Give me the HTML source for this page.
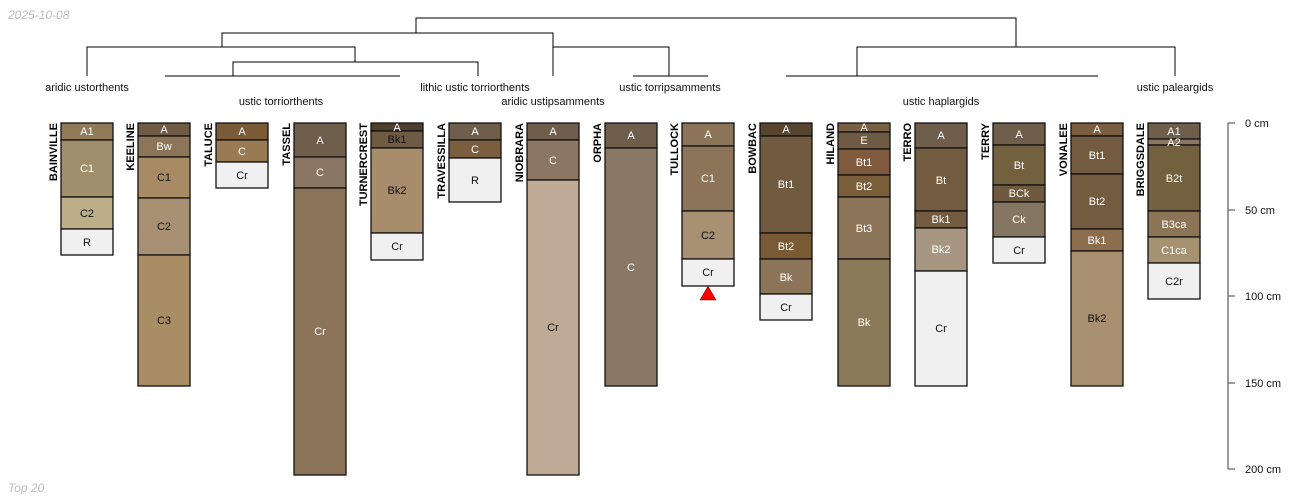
<!DOCTYPE html>
<html><head><meta charset="utf-8"><style>
html,body{margin:0;padding:0;background:#fff;width:1300px;height:500px;overflow:hidden}
svg{display:block;font-family:"Liberation Sans",sans-serif}
.h{stroke:#111;stroke-width:1.3}
.w{fill:#fff;font-size:11px;text-anchor:middle}
.k{fill:#111;font-size:11px;text-anchor:middle}
.n{font-size:11px;font-weight:bold;text-anchor:end;fill:#000}
.d{stroke:#000;stroke-width:1;fill:none}
.t{font-size:11px;text-anchor:middle;fill:#111}
</style></head><body>
<svg width="1300" height="500" viewBox="0 0 1300 500">
<text x="8" y="19" font-size="12" font-style="italic" fill="#bbb">2025-10-08</text>
<text x="8" y="492" font-size="12" font-style="italic" fill="#bbb">Top 20</text>
<!-- dendrogram -->
<g class="d">
<path d="M416 33V18H1016V47"/>
<path d="M222 47V33H553V47"/>
<path d="M87 76V47H355V62"/>
<path d="M233 76V62H478V76"/>
<path d="M165 76H400"/>
<path d="M553 76V47H669V76"/>
<path d="M633 76H708"/>
<path d="M857 76V47H1175V76"/>
<path d="M786 76H1098"/>
</g>
<text class="t" x="87" y="91">aridic ustorthents</text>
<text class="t" x="281" y="105">ustic torriorthents</text>
<text class="t" x="475" y="91">lithic ustic torriorthents</text>
<text class="t" x="553" y="105">aridic ustipsamments</text>
<text class="t" x="670" y="91">ustic torripsamments</text>
<text class="t" x="941" y="105">ustic haplargids</text>
<text class="t" x="1175" y="91">ustic paleargids</text>
<!-- profiles -->
<g class="h">
<!-- BAINVILLE 61 -->
<rect x="61" y="123" width="52" height="17" fill="#8f7a59"/>
<rect x="61" y="140" width="52" height="57" fill="#9f8f6c"/>
<rect x="61" y="197" width="52" height="32" fill="#bcae88"/>
<rect x="61" y="229" width="52" height="26" fill="#f0f0f0"/>
<!-- KEELINE 138 -->
<rect x="138" y="123" width="52" height="13" fill="#6f5a43"/>
<rect x="138" y="136" width="52" height="21" fill="#8c7559"/>
<rect x="138" y="157" width="52" height="41" fill="#a88b65"/>
<rect x="138" y="198" width="52" height="57" fill="#a89073"/>
<rect x="138" y="255" width="52" height="131" fill="#a88d65"/>
<!-- TALUCE 216 -->
<rect x="216" y="123" width="52" height="17" fill="#7a5a37"/>
<rect x="216" y="140" width="52" height="22" fill="#9a7a55"/>
<rect x="216" y="162" width="52" height="26" fill="#f0f0f0"/>
<!-- TASSEL 294 -->
<rect x="294" y="123" width="52" height="34" fill="#6f5e4c"/>
<rect x="294" y="157" width="52" height="31" fill="#8a7662"/>
<rect x="294" y="188" width="52" height="287" fill="#8c7459"/>
<!-- TURNERCREST 371 -->
<rect x="371" y="123" width="52" height="8" fill="#4f3f2f"/>
<rect x="371" y="131" width="52" height="17" fill="#6f5a43"/>
<rect x="371" y="148" width="52" height="85" fill="#a88d6c"/>
<rect x="371" y="233" width="52" height="27" fill="#f0f0f0"/>
<!-- TRAVESSILLA 449 -->
<rect x="449" y="123" width="52" height="17" fill="#6f5e4c"/>
<rect x="449" y="140" width="52" height="18" fill="#7a5e3f"/>
<rect x="449" y="158" width="52" height="44" fill="#f0f0f0"/>
<!-- NIOBRARA 527 -->
<rect x="527" y="123" width="52" height="17" fill="#6f5e4c"/>
<rect x="527" y="140" width="52" height="40" fill="#8a7662"/>
<rect x="527" y="180" width="52" height="295" fill="#bfab95"/>
<!-- ORPHA 605 -->
<rect x="605" y="123" width="52" height="25" fill="#6f5e4c"/>
<rect x="605" y="148" width="52" height="238" fill="#8a7866"/>
<!-- TULLOCK 682 -->
<rect x="682" y="123" width="52" height="23" fill="#8c7459"/>
<rect x="682" y="146" width="52" height="65" fill="#8b7457"/>
<rect x="682" y="211" width="52" height="48" fill="#a89073"/>
<rect x="682" y="259" width="52" height="27" fill="#f0f0f0"/>
<!-- BOWBAC 760 -->
<rect x="760" y="123" width="52" height="13" fill="#574530"/>
<rect x="760" y="136" width="52" height="97" fill="#705a40"/>
<rect x="760" y="233" width="52" height="26" fill="#7a5a35"/>
<rect x="760" y="259" width="52" height="35" fill="#8c7459"/>
<rect x="760" y="294" width="52" height="26" fill="#f0f0f0"/>
<!-- HILAND 838 -->
<rect x="838" y="123" width="52" height="9" fill="#7a6044"/>
<rect x="838" y="132" width="52" height="17" fill="#6f5a43"/>
<rect x="838" y="149" width="52" height="26" fill="#7f5a3f"/>
<rect x="838" y="175" width="52" height="22" fill="#7a5e3a"/>
<rect x="838" y="197" width="52" height="62" fill="#8c7459"/>
<rect x="838" y="259" width="52" height="127" fill="#8b7a5a"/>
<!-- TERRO 915 -->
<rect x="915" y="123" width="52" height="25" fill="#6f5e4c"/>
<rect x="915" y="148" width="52" height="63" fill="#735b40"/>
<rect x="915" y="211" width="52" height="17" fill="#735b40"/>
<rect x="915" y="228" width="52" height="43" fill="#a69682"/>
<rect x="915" y="271" width="52" height="115" fill="#f0f0f0"/>
<!-- TERRY 993 -->
<rect x="993" y="123" width="52" height="22" fill="#6f5e4c"/>
<rect x="993" y="145" width="52" height="40" fill="#73603f"/>
<rect x="993" y="185" width="52" height="17" fill="#6f5a3f"/>
<rect x="993" y="202" width="52" height="35" fill="#847660"/>
<rect x="993" y="237" width="52" height="26" fill="#f0f0f0"/>
<!-- VONALEE 1071 -->
<rect x="1071" y="123" width="52" height="13" fill="#7a5e3f"/>
<rect x="1071" y="136" width="52" height="38" fill="#735b40"/>
<rect x="1071" y="174" width="52" height="55" fill="#735b40"/>
<rect x="1071" y="229" width="52" height="22" fill="#8c6e4f"/>
<rect x="1071" y="251" width="52" height="135" fill="#a88f70"/>
<!-- BRIGGSDALE 1148 -->
<rect x="1148" y="123" width="52" height="16" fill="#6f5e4c"/>
<rect x="1148" y="139" width="52" height="6" fill="#8a7662"/>
<rect x="1148" y="145" width="52" height="66" fill="#73603f"/>
<rect x="1148" y="211" width="52" height="26" fill="#8b7556"/>
<rect x="1148" y="237" width="52" height="26" fill="#a69270"/>
<rect x="1148" y="263" width="52" height="36" fill="#f0f0f0"/>
</g>
<polygon points="708,286 700,300 716,300" fill="#f00" stroke="#600" stroke-width="0.5"/>
<!-- horizon labels -->
<g>
<text class="w" x="87" y="135">A1</text><text class="w" x="87" y="172">C1</text><text class="k" x="87" y="217">C2</text><text class="k" x="87" y="246">R</text>
<text class="w" x="164" y="133">A</text><text class="w" x="164" y="150">Bw</text><text class="k" x="164" y="181">C1</text><text class="k" x="164" y="230">C2</text><text class="k" x="164" y="324">C3</text>
<text class="w" x="242" y="135">A</text><text class="w" x="242" y="155">C</text><text class="k" x="242" y="179">Cr</text>
<text class="w" x="320" y="144">A</text><text class="w" x="320" y="176">C</text><text class="w" x="320" y="335">Cr</text>
<text class="w" x="397" y="131">A</text><text class="k" x="397" y="143">Bk1</text><text class="k" x="397" y="194">Bk2</text><text class="k" x="397" y="250">Cr</text>
<text class="w" x="475" y="135">A</text><text class="w" x="475" y="153">C</text><text class="k" x="475" y="184">R</text>
<text class="w" x="553" y="135">A</text><text class="w" x="553" y="164">C</text><text class="k" x="553" y="331">Cr</text>
<text class="w" x="631" y="139">A</text><text class="w" x="631" y="271">C</text>
<text class="w" x="708" y="138">A</text><text class="w" x="708" y="182">C1</text><text class="k" x="708" y="239">C2</text><text class="k" x="708" y="276">Cr</text>
<text class="w" x="786" y="133">A</text><text class="w" x="786" y="188">Bt1</text><text class="w" x="786" y="250">Bt2</text><text class="w" x="786" y="281">Bk</text><text class="k" x="786" y="311">Cr</text>
<text class="w" x="864" y="131">A</text><text class="w" x="864" y="144">E</text><text class="w" x="864" y="166">Bt1</text><text class="w" x="864" y="190">Bt2</text><text class="w" x="864" y="232">Bt3</text><text class="w" x="864" y="326">Bk</text>
<text class="w" x="941" y="139">A</text><text class="w" x="941" y="184">Bt</text><text class="w" x="941" y="223">Bk1</text><text class="w" x="941" y="253">Bk2</text><text class="k" x="941" y="332">Cr</text>
<text class="w" x="1019" y="138">A</text><text class="w" x="1019" y="169">Bt</text><text class="w" x="1019" y="197">BCk</text><text class="w" x="1019" y="223">Ck</text><text class="k" x="1019" y="254">Cr</text>
<text class="w" x="1097" y="133">A</text><text class="w" x="1097" y="159">Bt1</text><text class="w" x="1097" y="205">Bt2</text><text class="w" x="1097" y="244">Bk1</text><text class="k" x="1097" y="322">Bk2</text>
<text class="w" x="1174" y="135">A1</text><text class="w" x="1174" y="146">A2</text><text class="w" x="1174" y="182">B2t</text><text class="w" x="1174" y="228" font-size="9">B3ca</text><text class="w" x="1174" y="254" font-size="9">C1ca</text><text class="k" x="1174" y="285">C2r</text>
</g>
<!-- names -->
<g>
<text class="n" transform="translate(57,123) rotate(-90)">BAINVILLE</text>
<text class="n" transform="translate(134,123) rotate(-90)">KEELINE</text>
<text class="n" transform="translate(212,123) rotate(-90)">TALUCE</text>
<text class="n" transform="translate(290,123) rotate(-90)">TASSEL</text>
<text class="n" transform="translate(367,123) rotate(-90)">TURNERCREST</text>
<text class="n" transform="translate(445,123) rotate(-90)">TRAVESSILLA</text>
<text class="n" transform="translate(523,123) rotate(-90)">NIOBRARA</text>
<text class="n" transform="translate(601,123) rotate(-90)">ORPHA</text>
<text class="n" transform="translate(678,123) rotate(-90)">TULLOCK</text>
<text class="n" transform="translate(756,123) rotate(-90)">BOWBAC</text>
<text class="n" transform="translate(834,123) rotate(-90)">HILAND</text>
<text class="n" transform="translate(911,123) rotate(-90)">TERRO</text>
<text class="n" transform="translate(989,123) rotate(-90)">TERRY</text>
<text class="n" transform="translate(1067,123) rotate(-90)">VONALEE</text>
<text class="n" transform="translate(1144,123) rotate(-90)">BRIGGSDALE</text>
</g>
<!-- axis -->
<g stroke="#666" stroke-width="1.3">
<path d="M1228 123V469"/>
<path d="M1228 123H1235M1228 210H1235M1228 296H1235M1228 383H1235M1228 469H1235"/>
</g>
<g font-size="11" fill="#111">
<text x="1245" y="127">0 cm</text>
<text x="1245" y="214">50 cm</text>
<text x="1245" y="300">100 cm</text>
<text x="1245" y="387">150 cm</text>
<text x="1245" y="473">200 cm</text>
</g>
</svg>
</body></html>
